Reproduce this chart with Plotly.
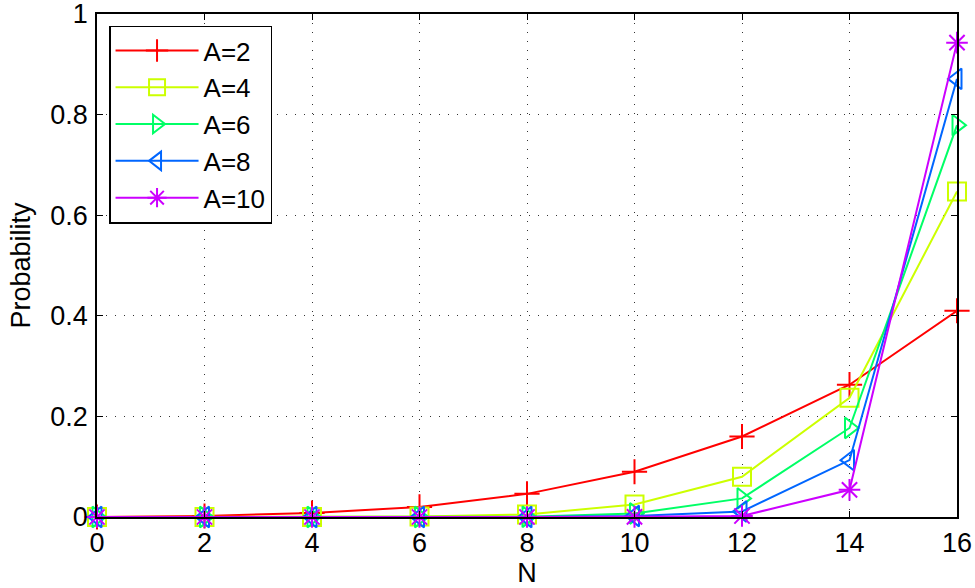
import plotly.graph_objects as go

N = [0, 2, 4, 6, 8, 10, 12, 14, 16]
A2 = [0, 0.002, 0.008, 0.02, 0.046, 0.09, 0.16, 0.263, 0.41]
A4 = [0, 0, 0.0002, 0.001, 0.005, 0.025, 0.08, 0.237, 0.647]
A6 = [0, 0, 0, 0, 0.0005, 0.007, 0.037, 0.177, 0.779]
A8 = [0, 0, 0, 0, 0, 0.002, 0.011, 0.113, 0.871]
A10 = [0, 0, 0, 0, 0, 0.0003, 0.002, 0.054, 0.943]

series = [
    ("A=2", A2, "#ff0000", "cross-thin-open"),
    ("A=4", A4, "#ccff00", "square-open"),
    ("A=6", A6, "#00ff66", "triangle-right-open"),
    ("A=8", A8, "#0066ff", "triangle-left-open"),
    ("A=10", A10, "#cc00ff", "asterisk-open"),
]

FONT = "Liberation Sans, Arial, sans-serif"
FS = 27

fig = go.Figure()
for name, ys, col, sym in series:
    fig.add_trace(go.Scatter(
        x=N, y=ys, name=name, mode="lines+markers",
        line=dict(color=col, width=2),
        marker=dict(symbol=sym, size=18, color=col, line=dict(color=col, width=2)),
        cliponaxis=False,
    ))

axis_common = dict(
    showline=True, linecolor="black", linewidth=1.5, mirror="allticks",
    ticks="inside", ticklen=6, tickcolor="black", tickwidth=1,
    showgrid=True, gridcolor="#333333", griddash="1px,8px", gridwidth=1,
    zeroline=False, automargin=False, ticklabeloverflow="allow",
    tickfont=dict(family=FONT, size=FS, color="black"),
)

fig.update_layout(
    width=975, height=588,
    margin=dict(l=97, r=18, t=14, b=71),
    paper_bgcolor="white", plot_bgcolor="white",
    font=dict(family=FONT, size=FS, color="black"),
    xaxis=dict(range=[0, 16], tickvals=[0, 2, 4, 6, 8, 10, 12, 14, 16],
               ticklabelstandoff=1,
               title=dict(text="N", font=dict(family=FONT, size=FS), standoff=5),
               **axis_common),
    yaxis=dict(range=[0, 1], tickvals=[0, 0.2, 0.4, 0.6, 0.8, 1],
               ticktext=["0", "0.2", "0.4", "0.6", "0.8", "1"],
               ticklabelstandoff=2,
               title=dict(text="Probability", font=dict(family=FONT, size=FS), standoff=12),
               **axis_common),
    legend=dict(x=0.014, y=0.977, xanchor="left", yanchor="top",
                bgcolor="white", bordercolor="black", borderwidth=1.5,
                font=dict(family=FONT, size=26), itemwidth=83,
                tracegroupgap=0),
    showlegend=True,
)

fig.write_html("out.html", config={"displayModeBar": False},
               post_script="document.body.style.margin='0';")
